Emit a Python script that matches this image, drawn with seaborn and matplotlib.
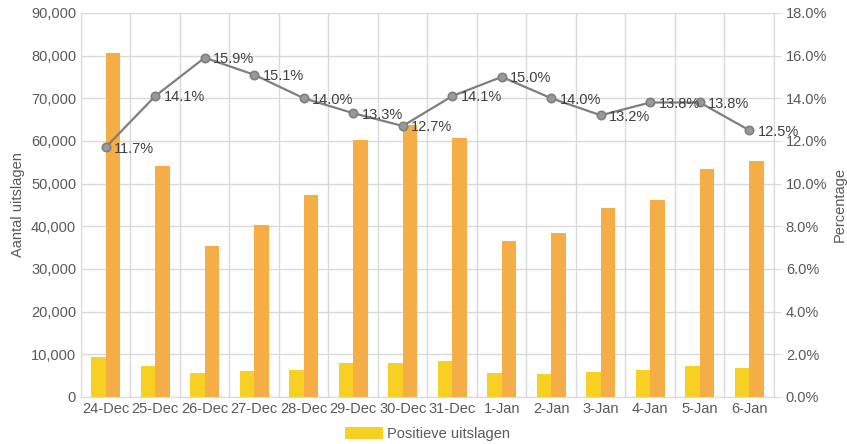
import numpy as np
import pandas as pd
import matplotlib
matplotlib.use('Agg')
import matplotlib.pyplot as plt
import matplotlib.ticker as mticker
from matplotlib.patches import Patch
import seaborn as sns

# Data
dates = ['24-Dec', '25-Dec', '26-Dec', '27-Dec', '28-Dec', '29-Dec', '30-Dec',
         '31-Dec', '1-Jan', '2-Jan', '3-Jan', '4-Jan', '5-Jan', '6-Jan']
positive = [9400, 7300, 5700, 6100, 6400, 7900, 7900,
            8400, 5500, 5300, 5900, 6300, 7300, 6800]
total = [80600, 54100, 35400, 40300, 47300, 60200, 63700,
         60700, 36600, 38400, 44300, 46100, 53400, 55300]
pct = [11.7, 14.1, 15.9, 15.1, 14.0, 13.3, 12.7,
       14.1, 15.0, 14.0, 13.2, 13.8, 13.8, 12.5]

df = pd.DataFrame({
    'Datum': dates * 2,
    'Aantal': positive + total,
    'Serie': ['Positieve uitslagen'] * len(dates) + ['Totaal'] * len(dates),
})

sns.set_style('white')
plt.rcParams['font.family'] = ['Liberation Sans', 'DejaVu Sans']

text_color = '#595959'
grid_color = '#D9D9D9'
yellow = '#F8D023'
orange = '#F5AD45'

fig = plt.figure(figsize=(8.47, 4.44), dpi=100)
ax = fig.add_axes([0.0956, 0.106, 0.8182, 0.865])

sns.barplot(data=df, x='Datum', y='Aantal', hue='Serie',
            palette=[yellow, orange], width=0.58, saturation=1,
            linewidth=0, legend=False, ax=ax)

ax.set_ylim(0, 90000)
ax.set_xlim(-0.5, len(dates) - 0.5)
ax.yaxis.set_major_locator(mticker.MultipleLocator(10000))
ax.yaxis.set_major_formatter(mticker.FuncFormatter(lambda v, p: f'{int(v):,}'))
ax.xaxis.set_minor_locator(mticker.FixedLocator(np.arange(-0.5, len(dates), 1)))
ax.grid(axis='y', which='major', color=grid_color, linewidth=1)
ax.grid(axis='x', which='minor', color=grid_color, linewidth=1)
ax.set_axisbelow(True)
ax.tick_params(axis='both', which='both', length=0, labelsize=10.5,
               colors=text_color)
ax.tick_params(axis='x', pad=4)
ax.set_xlabel('')
ax.set_ylabel('Aantal uitslagen', color=text_color, fontsize=10.5)
for s in ['top', 'right']:
    ax.spines[s].set_visible(False)
for s in ['left', 'bottom']:
    ax.spines[s].set_color(grid_color)

# Percentage line on the right axis
ax2 = ax.twinx()
sns.pointplot(x=dates, y=pct, color='#7F7F7F', markers='o', linewidth=1.6,
              markersize=6, ax=ax2)
for line in ax2.lines:
    line.set_markerfacecolor('#999999')
    line.set_markeredgecolor('#7F7F7F')
ax2.set_ylim(0, 18)
ax2.set_xlim(-0.5, len(dates) - 0.5)
ax2.yaxis.set_major_locator(mticker.MultipleLocator(2))
ax2.yaxis.set_major_formatter(mticker.FuncFormatter(lambda v, p: f'{v:.1f}%'))
ax2.tick_params(axis='y', length=5, color=grid_color, labelsize=10.5,
                colors=text_color)
ax2.tick_params(axis='y', color=grid_color)
ax2.set_ylabel('Percentage', color=text_color, fontsize=10.5)
for s in ['top', 'left', 'bottom']:
    ax2.spines[s].set_visible(False)
ax2.spines['right'].set_color(grid_color)

for i, v in enumerate(pct):
    ax2.annotate(f'{v:.1f}%', (i, v), xytext=(6, -1), textcoords='offset points',
                 ha='left', va='center', fontsize=10.5, color='#404040')

handles = [Patch(facecolor=yellow, edgecolor='none')]
ax.legend(handles, ['Positieve uitslagen'], loc='upper center',
          bbox_to_anchor=(0.5, -0.078), frameon=False, fontsize=10.5,
          labelcolor=text_color, handlelength=2.6, handleheight=0.9,
          handletextpad=0.3, borderaxespad=0, borderpad=0)

fig.savefig('out.png', dpi=100)
